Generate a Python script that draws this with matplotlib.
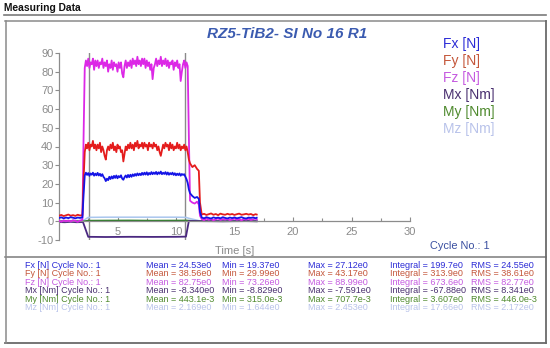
import numpy as np
import matplotlib
matplotlib.use("Agg")
import matplotlib.pyplot as plt
from matplotlib.lines import Line2D

plt.rcParams['font.family'] = ['Liberation Sans', 'DejaVu Sans']
plt.rcParams['axes.unicode_minus'] = False

# ---------------- data ----------------
title = "RZ5-TiB2- SI No 16 R1"
series_names = ["Fx [N]", "Fy [N]", "Fz [N]", "Mx [Nm]", "My [Nm]", "Mz [Nm]"]

# sampling grid of the force signals (s)
t_base = np.round(np.arange(0.0, 2.01, 0.2), 2)          # idle before load
t_rise = [2.1]
t_level = np.round(np.arange(2.2, 11.001, 0.1), 2)       # full load
t_drop1 = [11.1]
t_step = [11.2, 11.4, 11.6, 11.8, 11.95]
t_drop2 = [12.05]
t_low = np.round(np.arange(12.2, 16.81, 0.2), 2)
t_end = [16.9]
t_force = np.concatenate([t_base, t_rise, t_level, t_drop1, t_step, t_drop2, t_low, t_end])

fx = ([1.8, 2.1, 1.6, 2.0, 1.7, 2.2, 1.9, 1.6, 2.0, 1.8, 2.1] + [14] +
      [24.5, 26, 24.8, 25.8, 24.3, 25.6, 24.9, 26, 24.4, 25.5,
       24.6, 25.9, 24.5, 25.4, 24.2, 25.2, 23.8, 23, 21.5, 22.8,
       22, 23.8, 22.6, 24, 22.9, 24.3, 23.2, 24.5, 23, 24.2,
       23.5, 24.6, 22.8, 22.2, 23.6, 24.5, 23.4, 24.8, 23.6, 24.9,
       23.8, 25.1, 24.2, 25.3, 24.4, 25.6, 24.6, 25.5, 24.7, 25.9,
       24.9, 26, 25, 26.2, 24.8, 25.9, 25.1, 26.3, 25.2, 26.1,
       25.3, 26.4, 25.1, 26.2, 25.4, 26.6, 25.2, 26, 25.3, 26.3,
       25, 26.1, 24.9, 25.8, 25.1, 26, 24.8, 25.7, 24.6, 25.5,
       24.7, 25.6, 24.4, 25.3, 24.8, 25.2, 23.8, 22.5, 20.5] +
      [17] + [15, 13.5, 12.5, 13, 12] + [5] +
      [2.0, 1.6, 2.2, 1.8, 1.5, 2.1, 1.7, 2.0, 1.6, 2.2, 1.8, 1.5,
       2.0, 1.7, 2.1, 1.6, 1.9, 2.2, 1.7, 1.5, 2.0, 1.8, 2.1, 1.6] + [1.9])

fy = ([3.0, 3.4, 2.8, 3.2, 3.6, 3.0, 3.3, 2.9, 3.5, 3.1, 3.3] + [22] +
      [37, 41, 39, 42, 38, 41, 40, 43, 39, 41,
       38, 41, 39, 42, 37, 40, 38, 35, 33, 38,
       40, 38, 41, 39, 42, 38, 40, 37, 41, 39,
       40, 37, 38, 32, 36, 40, 38, 41, 39, 42,
       39, 41, 38, 42, 40, 43, 39, 41, 40, 42,
       39, 42, 40, 41, 38, 42, 40, 41, 39, 42,
       40, 41, 38, 40, 37, 35, 38, 41, 39, 42,
       40, 41, 38, 42, 39, 41, 38, 40, 39, 42,
       39, 41, 38, 40, 39, 41, 38, 40, 37] +
      [33] + [31, 29, 30, 28, 27] + [10] +
      [3.6, 4.0, 3.4, 3.8, 4.2, 3.5, 3.9, 3.3, 4.1, 3.7, 3.5, 4.0,
       3.6, 3.9, 3.4, 3.8, 4.1, 3.5, 3.7, 4.0, 3.6, 3.9, 3.3, 3.8] + [3.6])

fz = ([0.3, -0.2, 0.5, 0.0, 0.4, -0.1, 0.6, 0.2, -0.3, 0.4, 0.8] + [45] +
      [82, 86, 83, 87, 82, 85, 84, 87, 81, 86,
       83, 86, 82, 85, 84, 87, 82, 85, 83, 86,
       80, 84, 82, 86, 81, 85, 83, 84, 80, 85,
       82, 85, 79, 77, 83, 86, 82, 85, 83, 86,
       82, 87, 84, 86, 83, 88, 84, 86, 83, 87,
       84, 87, 82, 86, 83, 85, 81, 84, 76, 82,
       84, 87, 83, 86, 84, 88, 83, 86, 84, 87,
       83, 86, 82, 85, 84, 86, 81, 85, 83, 86,
       82, 84, 75, 80, 84, 86, 82, 85, 83] +
      [45] + [11, 10, 9.5, 10.5, 9] + [3] +
      [1.2, 0.6, 1.5, 0.8, 1.3, 0.5, 1.1, 1.6, 0.7, 1.2, 0.9, 1.4,
       0.6, 1.0, 1.5, 0.8, 1.2, 0.5, 1.3, 0.9, 1.4, 0.7, 1.1, 1.5] + [1.0])

t_moment = [0, 0.5, 1.0, 1.5, 2.05, 2.5, 4, 6, 8, 10, 10.85, 11.1, 12, 14, 16, 16.9]
mx = [-0.4, -0.5, -0.3, -0.5, -0.4, -8.3, -8.4, -8.3, -8.35, -8.3, -8.2, 0.2, 0.1, 0.0, 0.1, 0.0]
my = [0.0, 0.1, 0.0, 0.1, 0.0, 0.4, 0.45, 0.5, 0.4, 0.45, 0.5, 0.4, 0.1, 0.0, 0.1, 0.0]
mz = [0.3, 0.4, 0.3, 0.4, 0.3, 2.1, 2.2, 2.2, 2.2, 2.2, 2.1, 1.6, 0.3, 0.4, 0.3, 0.3]

cursor_times = [2.55, 10.75]

stat_labels = [n + " Cycle No.: 1" for n in series_names]
stat_mean = ["24.53e0", "38.56e0", "82.75e0", "-8.340e0", "443.1e-3", "2.169e0"]
stat_min = ["19.37e0", "29.99e0", "73.26e0", "-8.829e0", "315.0e-3", "1.644e0"]
stat_max = ["27.12e0", "43.17e0", "88.99e0", "-7.591e0", "707.7e-3", "2.453e0"]
stat_integral = ["199.7e0", "313.9e0", "673.6e0", "-67.88e0", "3.607e0", "17.66e0"]
stat_rms = ["24.55e0", "38.61e0", "82.77e0", "8.341e0", "446.0e-3", "2.172e0"]

# ---------------- styles ----------------
W, H = 550, 348
line_colors = ["#1414e6", "#e41c1c", "#dc28e6", "#4a2880", "#2f7d2a", "#a9c6ee"]
text_colors = ["#2b2bd6", "#c4563a", "#c55ae0", "#4a3070", "#4f8a2e", "#b9c3ea"]
grey = "#8c8c8c"

fig = plt.figure(figsize=(W / 100, H / 100), dpi=100)


def px(x, y):
    return x / W, 1 - y / H


def hline(x0, x1, y, color="#7a7a7a", lw=1.0):
    fig.add_artist(Line2D([x0 / W, x1 / W], [1 - y / H, 1 - y / H], color=color, lw=lw,
                          transform=fig.transFigure))


def vline(x, y0, y1, color="#7a7a7a", lw=1.0):
    fig.add_artist(Line2D([x / W, x / W], [1 - y0 / H, 1 - y1 / H], color=color, lw=lw,
                          transform=fig.transFigure))


# header
fig.text(*px(4, 8), "Measuring Data", fontsize=7.4, fontweight="bold", color="#111111",
         ha="left", va="center")
hline(4, 546, 14.5, color="#7a7a7a", lw=1.2)
# frames
hline(5, 546, 20.5, color="#8a8a8a", lw=1.1)
hline(5, 546, 256.5, color="#7a7a7a", lw=1.1)
hline(5, 546, 342.5, color="#6a6a6a", lw=1.3)
vline(5.5, 20.5, 342.5, color="#8a8a8a", lw=1.1)
vline(545.5, 20.5, 342.5, color="#6a6a6a", lw=1.3)

# ---------------- axes ----------------
ax_l, ax_r, ax_t, ax_b = 59, 410, 53, 240
ax = fig.add_axes([ax_l / W, 1 - ax_b / H, (ax_r - ax_l) / W, (ax_b - ax_t) / H])
ax.set_xlim(0, 30)
ax.set_ylim(-10, 90)
ax.patch.set_alpha(0)
for s in ["top", "right"]:
    ax.spines[s].set_visible(False)
ax.spines["bottom"].set_position(("data", 0))
ax.spines["bottom"].set_color(grey)
ax.spines["left"].set_color(grey)
ax.spines["bottom"].set_linewidth(0.9)
ax.spines["left"].set_linewidth(0.9)

ax.set_yticks(np.arange(-10, 91, 10))
ax.set_xticks([5, 10, 15, 20, 25, 30])
ax.set_xticks(np.arange(0, 30.1, 2.5), minor=True)
ax.tick_params(axis="y", direction="out", length=3, width=0.8, color=grey,
               labelcolor="#8a8a8a", labelsize=8, pad=1)
ax.tick_params(axis="x", which="major", direction="in", length=3, width=0.8, color=grey,
               labelcolor="#8a8a8a", labelsize=8, pad=4)
ax.tick_params(axis="x", which="minor", direction="in", length=2, width=0.8, color=grey)

for ct in cursor_times:
    ax.axvline(ct, color="#8a8a8a", lw=1.0, zorder=1)

ax.plot(t_moment, mz, color=line_colors[5], lw=1.1, zorder=2)
ax.plot(t_moment, my, color=line_colors[4], lw=1.1, zorder=2)
ax.plot(t_moment, mx, color=line_colors[3], lw=1.3, zorder=2)
ax.plot(t_force, fz, color=line_colors[2], lw=1.3, zorder=3)
ax.plot(t_force, fy, color=line_colors[1], lw=1.3, zorder=3)
ax.plot(t_force, fx, color=line_colors[0], lw=1.3, zorder=4)

fig.text(*px(235, 251), "Time [s]", fontsize=8, color="#8a8a8a", ha="center", va="center")
fig.text(*px(460, 246), "Cycle No.: 1", fontsize=7.9, color="#3a4fa0", ha="center", va="center")

# title
fig.text(*px(287, 34), title, fontsize=11, fontweight="bold", style="italic",
         color="#3b5bb0", ha="center", va="center")

# legend
leg_y = [44, 61, 78, 95, 112, 129]
for name, c, y in zip(series_names, text_colors, leg_y):
    fig.text(*px(443, y), name, fontsize=10, color=c, ha="left", va="center")

# statistics table
fs = 6.5
row_y = [265.5, 273.9, 282.3, 290.7, 299.1, 307.5]
for i, y in enumerate(row_y):
    c = text_colors[i]
    fig.text(*px(25, y), stat_labels[i], fontsize=fs, color=c, ha="left", va="center")
    fig.text(*px(146, y), "Mean = " + stat_mean[i], fontsize=fs, color=c, ha="left", va="center")
    fig.text(*px(222, y), "Min = " + stat_min[i], fontsize=fs, color=c, ha="left", va="center")
    fig.text(*px(308, y), "Max = " + stat_max[i], fontsize=fs, color=c, ha="left", va="center")
    fig.text(*px(390, y), "Integral = " + stat_integral[i], fontsize=fs, color=c, ha="left", va="center")
    fig.text(*px(471, y), "RMS = " + stat_rms[i], fontsize=fs, color=c, ha="left", va="center")

fig.savefig("out.png", dpi=100)
